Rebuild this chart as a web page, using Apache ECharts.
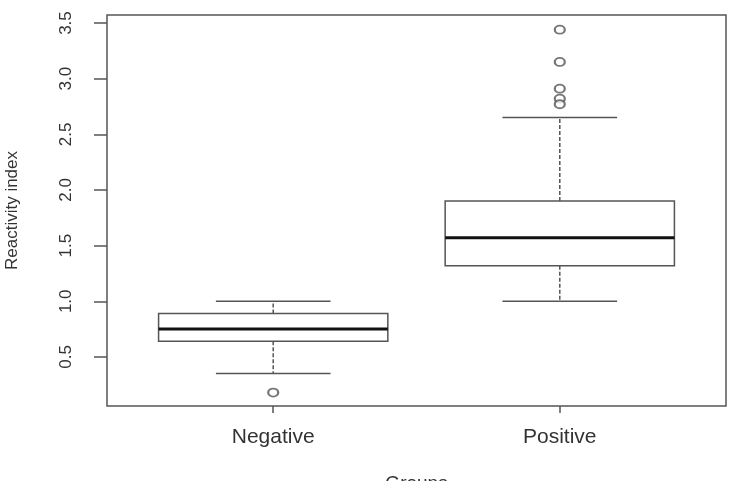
<!DOCTYPE html>
<html>
<head>
<meta charset="utf-8">
<script src="https://cdn.jsdelivr.net/npm/echarts@6/dist/echarts.min.js"></script>
<style>
  html, body { margin: 0; padding: 0; background: #fff; }
  #main { width: 729px; height: 481px; }
</style>
</head>
<body>
<div id="main"></div>
<script>
// boxplot data
var groups = ['Negative', 'Positive'];
var lowWhisker = [0.35, 1.0];
var q1 = [0.64, 1.32];
var median = [0.75, 1.57];
var q3 = [0.89, 1.9];
var highWhisker = [1.0, 2.65];
var negativeOutliers = [0.18];
var positiveOutliers = [3.44, 3.15, 2.91, 2.82, 2.77];
var yTicks = [0.5, 1.0, 1.5, 2.0, 2.5, 3.0, 3.5];

var boxData = [];
for (var i = 0; i < groups.length; i++) {
    boxData.push([i + 1, lowWhisker[i], q1[i], median[i], q3[i], highWhisker[i]]);
}
var outlierData = [];
negativeOutliers.forEach(function (v) { outlierData.push([1, v]); });
positiveOutliers.forEach(function (v) { outlierData.push([2, v]); });

var lineColor = '#555';
var textColor = '#333';
var font = '"Liberation Sans", Arial, sans-serif';

var myChart = echarts.init(document.getElementById('main'));

function renderBox(params, api) {
    var x = api.value(0);
    var halfBox = 0.4, halfCap = 0.2;
    var pLow = api.coord([x, api.value(1)]);
    var pQ1 = api.coord([x, api.value(2)]);
    var pMed = api.coord([x, api.value(3)]);
    var pQ3 = api.coord([x, api.value(4)]);
    var pHigh = api.coord([x, api.value(5)]);
    var left = api.coord([x - halfBox, 0])[0];
    var right = api.coord([x + halfBox, 0])[0];
    var capL = api.coord([x - halfCap, 0])[0];
    var capR = api.coord([x + halfCap, 0])[0];
    var solid = {stroke: lineColor, lineWidth: 1.5, fill: null};
    var dashed = {stroke: lineColor, lineWidth: 1.5, lineDash: [4, 2], fill: null};
    return {
        type: 'group',
        children: [
            {type: 'line', shape: {x1: pQ3[0], y1: pQ3[1], x2: pHigh[0], y2: pHigh[1]}, style: dashed},
            {type: 'line', shape: {x1: pQ1[0], y1: pQ1[1], x2: pLow[0], y2: pLow[1]}, style: dashed},
            {type: 'line', shape: {x1: capL, y1: pHigh[1], x2: capR, y2: pHigh[1]}, style: solid},
            {type: 'line', shape: {x1: capL, y1: pLow[1], x2: capR, y2: pLow[1]}, style: solid},
            {type: 'rect', shape: {x: left, y: pQ3[1], width: right - left, height: pQ1[1] - pQ3[1]},
                style: {stroke: lineColor, lineWidth: 1.5, fill: '#fff'}},
            {type: 'line', shape: {x1: left, y1: pMed[1], x2: right, y2: pMed[1]},
                style: {stroke: '#111', lineWidth: 3}}
        ]
    };
}

var option = {
    backgroundColor: '#fff',
    animation: false,
    grid: {
        left: 107,
        right: 3,
        top: 15,
        bottom: 75,
        outerBoundsMode: 'none',
        show: true,
        borderColor: lineColor,
        borderWidth: 1.5
    },
    xAxis: {
        type: 'value',
        min: 0.42,
        max: 2.58,
        name: 'Groups',
        nameLocation: 'middle',
        nameGap: 68,
        nameTextStyle: {color: textColor, fontFamily: font, fontSize: 19},
        axisLine: {show: false},
        splitLine: {show: false},
        axisTick: {show: true, length: 7, customValues: [1, 2], lineStyle: {color: lineColor, width: 1.5}},
        axisLabel: {
            customValues: [1, 2],
            margin: 21,
            color: textColor,
            fontFamily: font,
            fontSize: 21,
            formatter: function (v) { return groups[Math.round(v) - 1]; }
        }
    },
    yAxis: {
        type: 'value',
        min: 0.059,
        max: 3.572,
        name: 'Reactivity index',
        nameLocation: 'middle',
        nameRotate: 90,
        nameGap: 86,
        nameTextStyle: {color: textColor, fontFamily: font, fontSize: 17},
        axisLine: {show: false},
        splitLine: {show: false},
        axisTick: {show: true, length: 13, customValues: yTicks, lineStyle: {color: lineColor, width: 1.5}},
        axisLabel: {
            customValues: yTicks,
            rotate: 90,
            margin: 32,
            color: textColor,
            fontFamily: font,
            fontSize: 17,
            formatter: function (v) { return v.toFixed(1); }
        }
    },
    series: [
        {
            type: 'custom',
            renderItem: renderBox,
            data: boxData,
            z: 2
        },
        {
            type: 'scatter',
            data: outlierData,
            symbol: 'emptyCircle',
            symbolSize: [10, 8],
            itemStyle: {color: lineColor, borderColor: lineColor, borderWidth: 1.5},
            z: 3
        }
    ]
};

myChart.setOption(option);
</script>
</body>
</html>
